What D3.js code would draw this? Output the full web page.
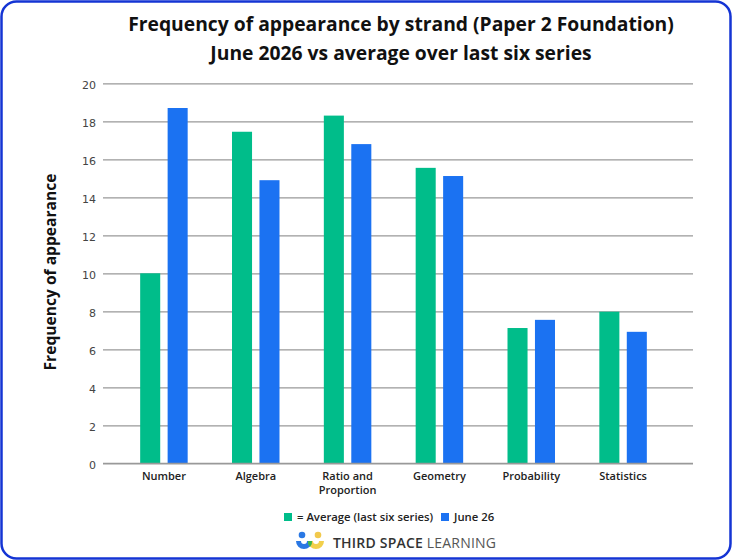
<!DOCTYPE html>
<html>
<head>
<meta charset="utf-8">
<script src="https://cdn.jsdelivr.net/npm/d3@7"></script>
<style>
  body { margin: 0; background: #fff; }
  svg { display: block; }
  .title { font-family: 'Open Sans', sans-serif; font-weight: 700; font-size: 19.3px; fill: #111; text-anchor: middle; }
  .tickY text { font-family: 'DejaVu Sans', sans-serif; font-size: 11px; fill: #444; }
  .tickX text { font-family: 'Open Sans', sans-serif; font-weight: 600; font-size: 11px; fill: #222; }
  .legend text { font-family: 'Open Sans', sans-serif; font-weight: 600; font-size: 11.3px; fill: #222; }
</style>
</head>
<body>
<svg id="svg_chart" width="732" height="560"></svg>
<script>

// data
const strands = ['Number', 'Algebra', 'Ratio and Proportion', 'Geometry', 'Probability', 'Statistics'];
const averageSix = [10.0, 17.45, 18.3, 15.55, 7.12, 7.98];
const june26 = [18.7, 14.9, 16.8, 15.12, 7.55, 6.92];
const seriesNames = ['= Average (last six series)', 'June 26'];
const yTicks = [0, 2, 4, 6, 8, 10, 12, 14, 16, 18, 20];

const cGreen = '#00bd8a';
const cBlue = '#1b72f2';
const cBorder = '#1434d4';

const svg = d3.select('#svg_chart');
const width = 732, height = 560;

const data = strands.map((s, i) => ({ strand: s, values: [averageSix[i], june26[i]] }));

// frame
svg.append('rect')
  .attr('x', 1.5).attr('y', 1.5)
  .attr('width', width - 3).attr('height', height - 3)
  .attr('rx', 15)
  .attr('fill', '#fff')
  .attr('stroke', cBorder)
  .attr('stroke-width', 2.5);

// title
svg.selectAll('.title').data(['Frequency of appearance by strand (Paper 2 Foundation)', 'June 2026 vs average over last six series'])
  .join('text')
  .attr('class', 'title')
  .attr('x', 401)
  .attr('y', (d, i) => 31 + i * 28.5)
  .text(d => d);

// scales
const x0 = d3.scaleBand()
  .domain(strands)
  .range([118, 669])
  .padding(0);

const x1 = d3.scaleBand()
  .domain([0, 1])
  .range([0, 47.5])
  .paddingInner(0.27);

const y = d3.scaleLinear()
  .domain([0, 20])
  .range([463.3, 83.3]);

const gridLeft = 103, gridRight = 693;

// gridlines + y labels
const yAxis = d3.axisLeft(y)
  .tickValues(yTicks)
  .tickSize(-(gridRight - gridLeft))
  .tickPadding(7);

svg.append('g')
  .attr('class', 'tickY')
  .attr('transform', `translate(${gridLeft},1.5)`)
  .call(yAxis)
  .call(g => g.select('.domain').remove())
  .call(g => g.selectAll('.tick line').attr('transform', 'translate(0,-1.5)').attr('stroke', '#999').attr('stroke-width', 1.2));

// y title
svg.append('text')
  .attr('transform', 'translate(56,272) rotate(-90)')
  .attr('text-anchor', 'middle')
  .style('font-family', "'Open Sans', sans-serif")
  .style('font-weight', 700)
  .style('font-size', '15.6px')
  .style('fill', '#111')
  .text('Frequency of appearance');

// bars
const groups = svg.append('g').selectAll('.grp').data(data)
  .join('g')
  .attr('class', 'grp')
  .attr('transform', d => `translate(${x0(d.strand) + (x0.bandwidth() - 47.5) / 2},0)`);

groups.selectAll('rect')
  .data(d => d.values.map((v, k) => ({ k, v })))
  .join('rect')
  .attr('x', d => x1(d.k))
  .attr('width', x1.bandwidth())
  .attr('y', d => y(d.v))
  .attr('height', d => y(0) - y(d.v))
  .attr('fill', d => d.k === 0 ? cGreen : cBlue);

// baseline
svg.append('line')
  .attr('x1', gridLeft).attr('x2', gridRight)
  .attr('y1', y(0)).attr('y2', y(0))
  .attr('stroke', '#999').attr('stroke-width', 1.2);

// x labels
const xAxis = d3.axisBottom(x0).tickSize(0).tickPadding(9);
const xg = svg.append('g')
  .attr('class', 'tickX')
  .attr('transform', `translate(0,${y(0)})`)
  .call(xAxis)
  .call(g => g.select('.domain').remove());

xg.selectAll('.tick text').each(function (d) {
  const t = d3.select(this);
  if (d === 'Ratio and Proportion') {
    t.text(null);
    t.append('tspan').attr('x', 0).attr('dy', '0.71em').text('Ratio and');
    t.append('tspan').attr('x', 0).attr('dy', '1.25em').text('Proportion');
    t.attr('dy', null);
  }
});

// legend
const legendX = [284, 441];
const legend = svg.append('g').attr('class', 'legend');
legend.selectAll('rect').data(seriesNames)
  .join('rect')
  .attr('x', (d, i) => legendX[i])
  .attr('y', 513)
  .attr('width', 8).attr('height', 8)
  .attr('fill', (d, i) => i === 0 ? cGreen : cBlue);
legend.selectAll('text').data(seriesNames)
  .join('text')
  .attr('x', (d, i) => legendX[i] + 13)
  .attr('y', 521)
  .text(d => d);

// logo
const logo = svg.append('g').attr('transform', 'translate(296,531)');
logo.append('circle').attr('cx', 6).attr('cy', 4).attr('r', 3.3).attr('fill', '#2a78e4');
logo.append('circle').attr('cx', 22).attr('cy', 4).attr('r', 3.3).attr('fill', '#f2c94c');
logo.append('path')
  .attr('d', 'M0,10 A8,8 0 0 0 16,10 L11,10 A3,3 0 0 1 5,10 Z')
  .attr('fill', '#2a78e4');
logo.append('path')
  .attr('d', 'M12,10 A8,8 0 0 0 28,10 L23,10 A3,3 0 0 1 17,10 Z')
  .attr('fill', '#f2d04c');
logo.append('path')
  .attr('d', 'M12,10 A7,7 0 0 0 14,16 A7,7 0 0 0 16,10 Z')
  .attr('fill', '#3bb54a');

const logoText = svg.append('text')
  .attr('x', 333).attr('y', 548)
  .style('font-family', "'Open Sans', sans-serif")
  .style('font-size', '14px')
  .style('letter-spacing', '0.2px')
  .style('fill', '#333');
logoText.append('tspan').style('font-weight', 600).text('THIRD SPACE ');
logoText.append('tspan').style('font-weight', 400).style('fill', '#555').text('LEARNING');

</script>
</body>
</html>
